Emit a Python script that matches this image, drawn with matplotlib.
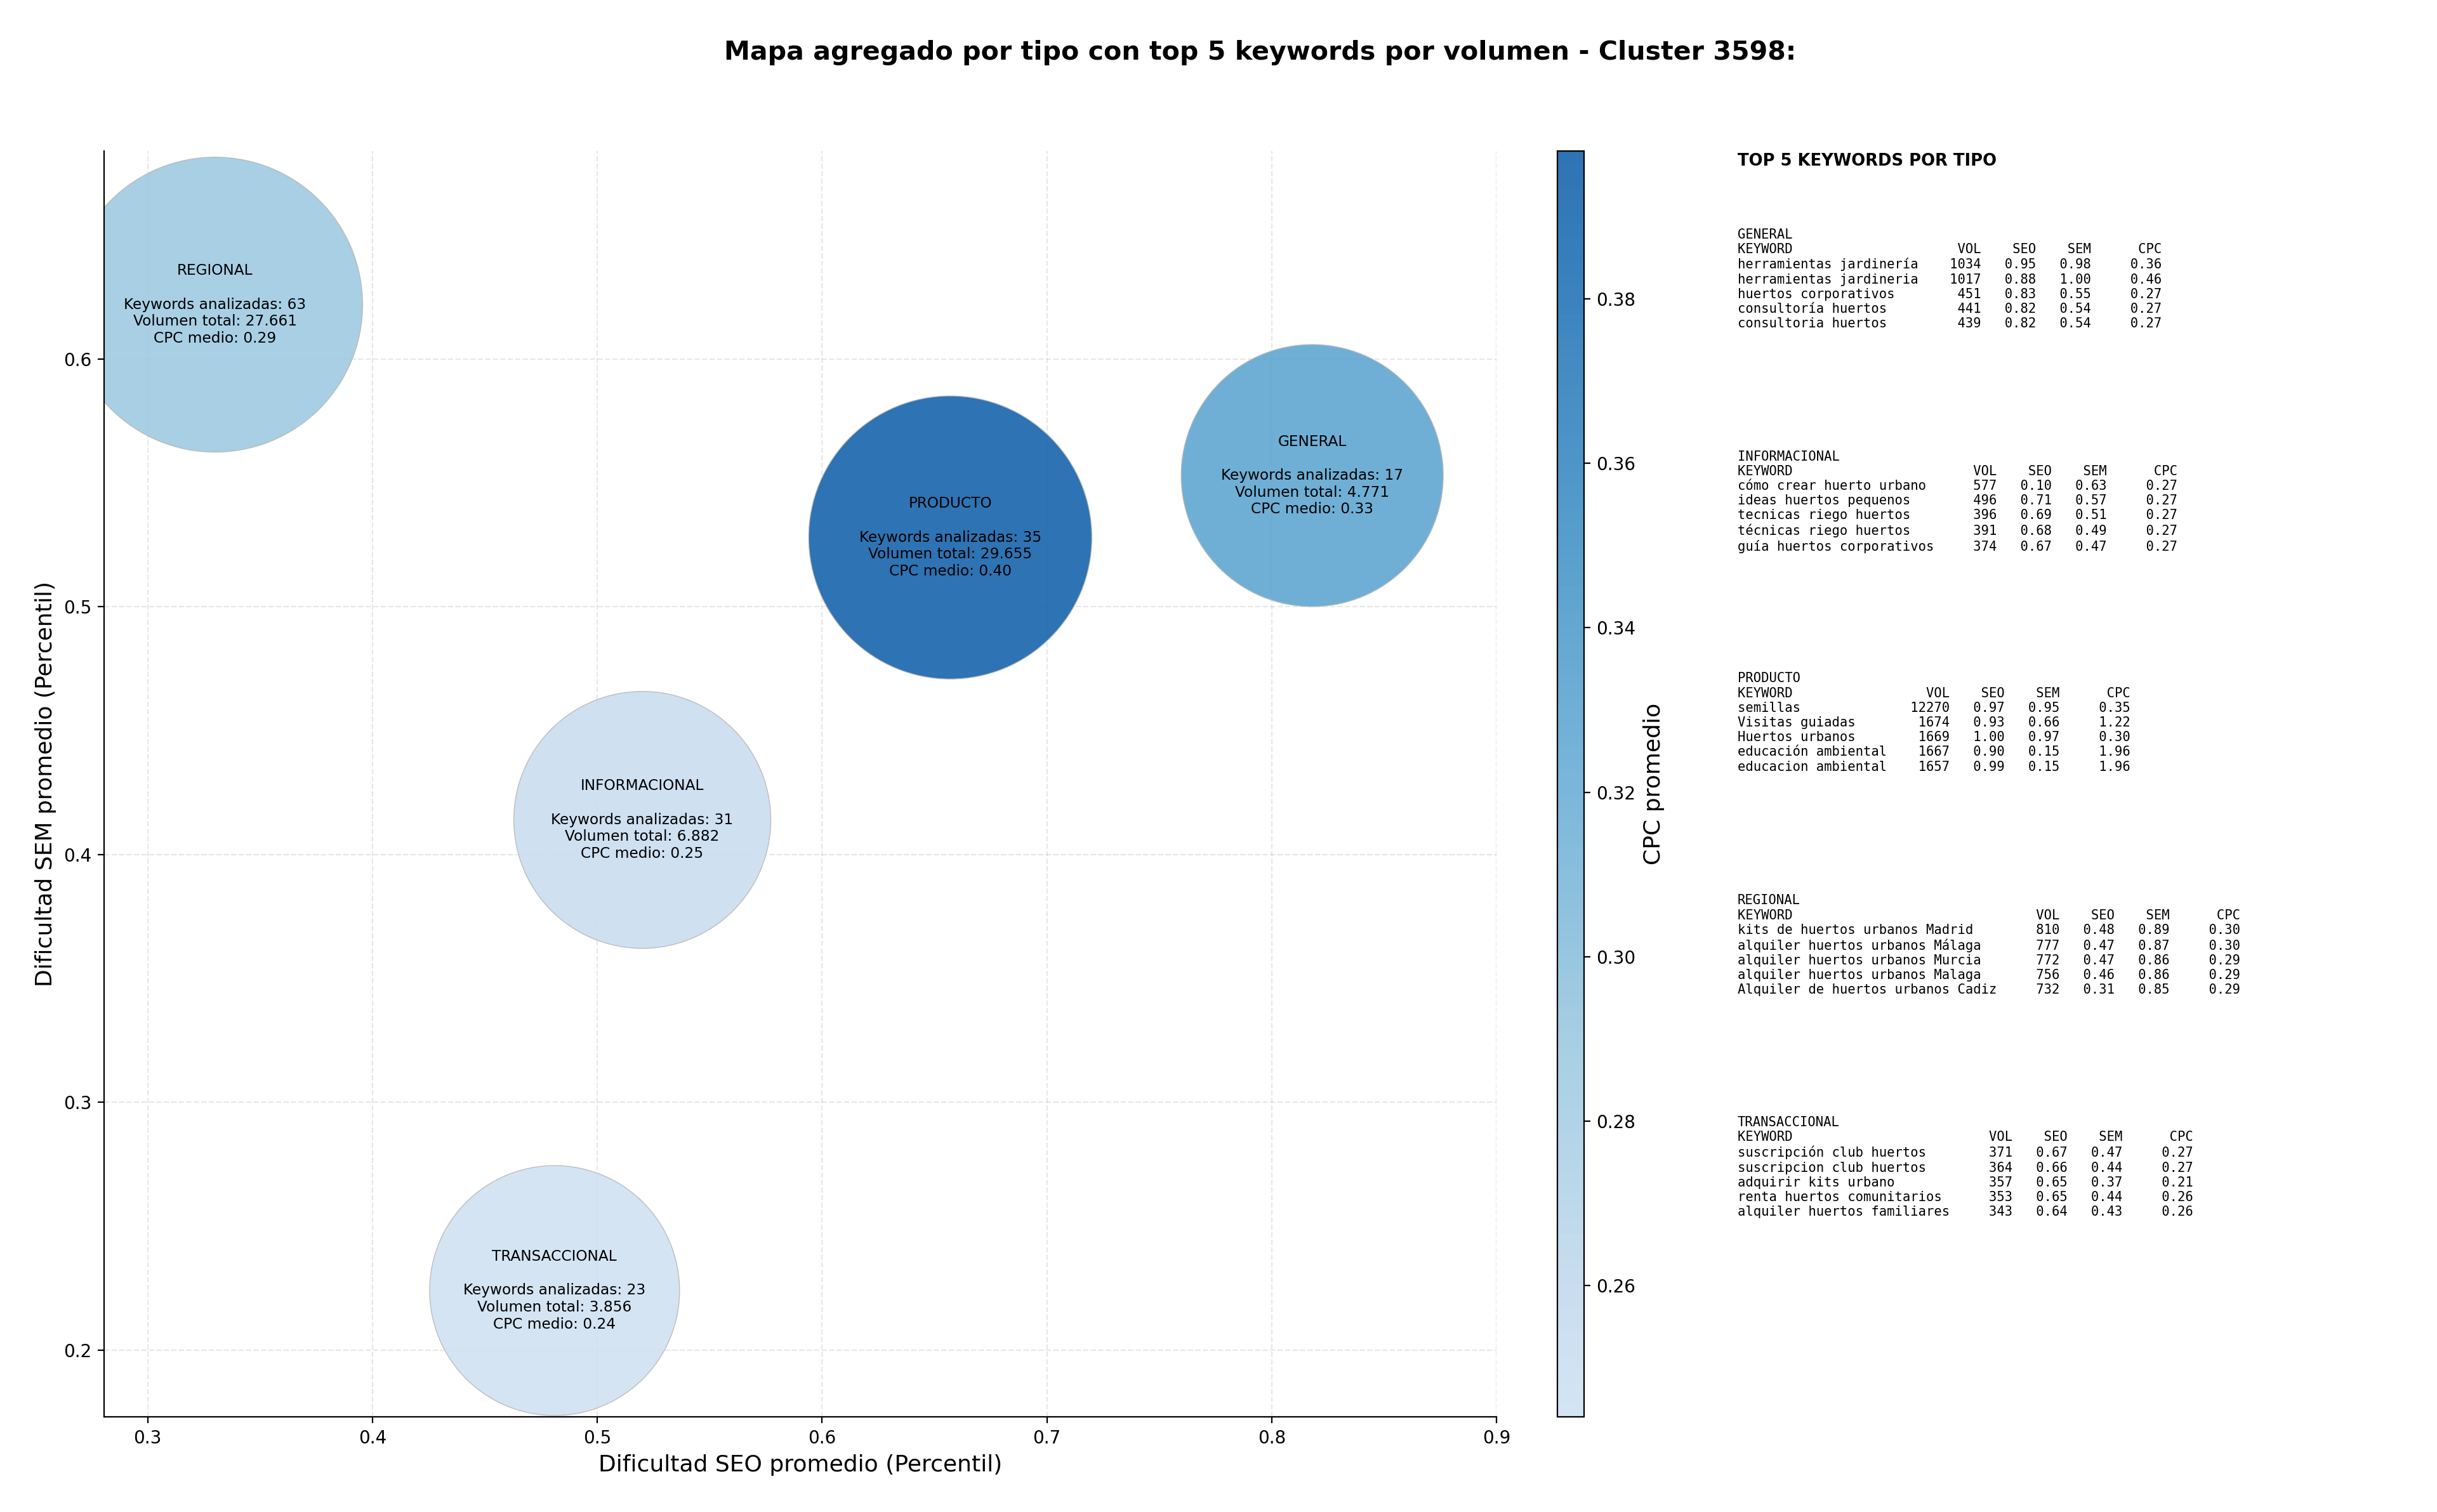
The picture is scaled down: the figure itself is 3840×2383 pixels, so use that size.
import numpy as np
import matplotlib
matplotlib.use("Agg")
import matplotlib.pyplot as plt
from matplotlib.colors import LinearSegmentedColormap, Normalize

# --- datos agregados por tipo ---
tipos = ['GENERAL', 'INFORMACIONAL', 'PRODUCTO', 'REGIONAL', 'TRANSACCIONAL']
seo_prom = [0.818, 0.520, 0.657, 0.330, 0.481]
sem_prom = [0.553, 0.414, 0.528, 0.622, 0.224]
cpc_prom = [0.331, 0.252, 0.398, 0.289, 0.244]
n_keywords = [17, 31, 35, 63, 23]
vol_total = [4771, 6882, 29655, 27661, 3856]
bubble_size = [22100, 21250, 25800, 28000, 20100]  # area en pt^2

# --- top 5 keywords por tipo ---
top_kw = {
    'GENERAL': ['herramientas jardinería', 'herramientas jardineria', 'huertos corporativos',
                'consultoría huertos', 'consultoria huertos'],
    'INFORMACIONAL': ['cómo crear huerto urbano', 'ideas huertos pequenos', 'tecnicas riego huertos',
                      'técnicas riego huertos', 'guía huertos corporativos'],
    'PRODUCTO': ['semillas', 'Visitas guiadas', 'Huertos urbanos', 'educación ambiental',
                 'educacion ambiental'],
    'REGIONAL': ['kits de huertos urbanos Madrid', 'alquiler huertos urbanos Málaga',
                 'alquiler huertos urbanos Murcia', 'alquiler huertos urbanos Malaga',
                 'Alquiler de huertos urbanos Cadiz'],
    'TRANSACCIONAL': ['suscripción club huertos', 'suscripcion club huertos', 'adquirir kits urbano',
                      'renta huertos comunitarios', 'alquiler huertos familiares'],
}
top_vol = {
    'GENERAL': [1034, 1017, 451, 441, 439],
    'INFORMACIONAL': [577, 496, 396, 391, 374],
    'PRODUCTO': [12270, 1674, 1669, 1667, 1657],
    'REGIONAL': [810, 777, 772, 756, 732],
    'TRANSACCIONAL': [371, 364, 357, 353, 343],
}
top_seo = {
    'GENERAL': [0.95, 0.88, 0.83, 0.82, 0.82],
    'INFORMACIONAL': [0.10, 0.71, 0.69, 0.68, 0.67],
    'PRODUCTO': [0.97, 0.93, 1.00, 0.90, 0.99],
    'REGIONAL': [0.48, 0.47, 0.47, 0.46, 0.31],
    'TRANSACCIONAL': [0.67, 0.66, 0.65, 0.65, 0.64],
}
top_sem = {
    'GENERAL': [0.98, 1.00, 0.55, 0.54, 0.54],
    'INFORMACIONAL': [0.63, 0.57, 0.51, 0.49, 0.47],
    'PRODUCTO': [0.95, 0.66, 0.97, 0.15, 0.15],
    'REGIONAL': [0.89, 0.87, 0.86, 0.86, 0.85],
    'TRANSACCIONAL': [0.47, 0.44, 0.37, 0.44, 0.43],
}
top_cpc = {
    'GENERAL': [0.36, 0.46, 0.27, 0.27, 0.27],
    'INFORMACIONAL': [0.27, 0.27, 0.27, 0.27, 0.27],
    'PRODUCTO': [0.35, 1.22, 0.30, 1.96, 1.96],
    'REGIONAL': [0.30, 0.30, 0.29, 0.29, 0.29],
    'TRANSACCIONAL': [0.27, 0.27, 0.21, 0.26, 0.26],
}

# colormap Blues recortado
cmap = LinearSegmentedColormap.from_list('blues_cut', plt.cm.Blues(np.linspace(0.2, 0.8, 256)))
norm = Normalize(vmin=min(cpc_prom), vmax=max(cpc_prom))

fig = plt.figure(figsize=(19.2, 11.915), dpi=200)
ax = fig.add_axes([0.0427, 0.0629, 0.5714, 0.8372])
cax = fig.add_axes([0.639, 0.0629, 0.011, 0.8372])

sc = ax.scatter(seo_prom, sem_prom, s=bubble_size, c=cpc_prom, cmap=cmap, norm=norm,
                alpha=0.9, edgecolors='#b8b8b8', linewidths=0.5, zorder=2)

for i, t in enumerate(tipos):
    vol_txt = f"{vol_total[i]:,}".replace(',', '.')
    label = (f"{t}\n\nKeywords analizadas: {n_keywords[i]}\n"
             f"Volumen total: {vol_txt}\nCPC medio: {cpc_prom[i]:.2f}")
    ax.text(seo_prom[i], sem_prom[i], label, ha='center', va='center', fontsize=8.4, zorder=3)

ax.set_xlim(0.2806, 0.90)
ax.set_ylim(0.173, 0.684)
ax.set_xlabel('Dificultad SEO promedio (Percentil)', fontsize=13)
ax.set_ylabel('Dificultad SEM promedio (Percentil)', fontsize=13)
ax.grid(True, linestyle='--', alpha=0.3, zorder=0)
ax.set_axisbelow(True)
ax.spines['top'].set_visible(False)
ax.spines['right'].set_visible(False)

cb = fig.colorbar(sc, cax=cax)
cb.set_label('CPC promedio', fontsize=13)

fig.text(0.517, 0.965, 'Mapa agregado por tipo con top 5 keywords por volumen - Cluster 3598:',
         ha='center', va='center', fontsize=14.8, fontweight='bold')

# panel de texto con el top 5
x0 = 0.713
fig.text(x0, 0.899, 'TOP 5 KEYWORDS POR TIPO', fontsize=9.3, fontweight='bold', va='top')
for j, t in enumerate(tipos):
    w = max(len(k) for k in top_kw[t]) + 2
    lines = [t, f"{'KEYWORD':<{w}}{'VOL':>6}{'SEO':>7}{'SEM':>7}{'CPC':>9}"]
    for k, v, se, sm, cp in zip(top_kw[t], top_vol[t], top_seo[t], top_sem[t], top_cpc[t]):
        lines.append(f"{k:<{w}}{v:>6}{se:>7.2f}{sm:>7.2f}{cp:>9.2f}")
    fig.text(x0, 0.849 - j * 0.1468, '\n'.join(lines), fontsize=7.4,
             family='DejaVu Sans Mono', va='top', ha='left')

fig.savefig('out.png', dpi=200)
